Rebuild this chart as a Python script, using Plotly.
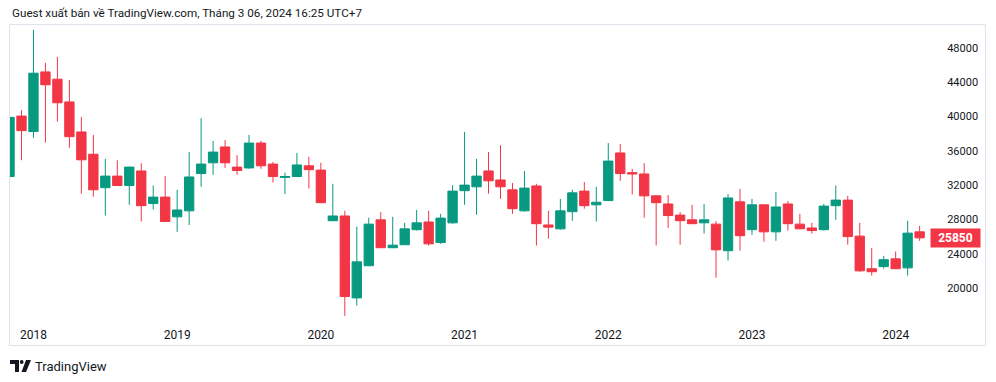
import plotly.graph_objects as go

# ---------------- data (monthly, Nov 2017 .. Mar 2024) ----------------
months = [
    "2017-11", "2017-12",
    "2018-01", "2018-02", "2018-03", "2018-04", "2018-05", "2018-06",
    "2018-07", "2018-08", "2018-09", "2018-10", "2018-11", "2018-12",
    "2019-01", "2019-02", "2019-03", "2019-04", "2019-05", "2019-06",
    "2019-07", "2019-08", "2019-09", "2019-10", "2019-11", "2019-12",
    "2020-01", "2020-02", "2020-03", "2020-04", "2020-05", "2020-06",
    "2020-07", "2020-08", "2020-09", "2020-10", "2020-11", "2020-12",
    "2021-01", "2021-02", "2021-03", "2021-04", "2021-05", "2021-06",
    "2021-07", "2021-08", "2021-09", "2021-10", "2021-11", "2021-12",
    "2022-01", "2022-02", "2022-03", "2022-04", "2022-05", "2022-06",
    "2022-07", "2022-08", "2022-09", "2022-10", "2022-11", "2022-12",
    "2023-01", "2023-02", "2023-03", "2023-04", "2023-05", "2023-06",
    "2023-07", "2023-08", "2023-09", "2023-10", "2023-11", "2023-12",
    "2024-01", "2024-02", "2024-03",
]
open_ = [
    33000, 40050,
    38250, 45200, 44350, 41700, 38200, 35600, 31700, 33050, 31950, 33650, 29850, 30600,
    28300, 29000, 33350, 34600, 36450, 34100, 34000, 36900, 34450, 32900, 33000, 34250,
    33750, 27850, 28400, 18850, 22600, 27950, 24700, 25050, 26800, 27700, 25300, 27600,
    31350, 31800, 33650, 32600, 31450, 29000, 31900, 27350, 26900, 28900, 31300, 29700,
    30200, 35750, 33450, 33300, 30750, 29800, 28500, 27950, 27600, 27450, 24350, 30050,
    26800, 29700, 26550, 29800, 27450, 27000, 26800, 29600, 30250, 26050, 22250, 22500,
    23400, 22350, 26550,
]
high = [
    40100, 40750,
    50100, 46250, 46950, 44250, 39950, 37850, 35050, 34900, 34150, 34550, 31950, 33050,
    31450, 35850, 39800, 37150, 37250, 35500, 37850, 37150, 34700, 33450, 35750, 35300,
    34600, 32150, 29000, 27150, 28200, 28850, 28300, 27600, 29100, 29000, 28650, 32000,
    38200, 35050, 35850, 36650, 32250, 33650, 32150, 29000, 30400, 31450, 32350, 31800,
    36900, 36800, 33900, 34550, 30800, 30850, 28850, 29700, 29800, 27800, 30950, 31550,
    30400, 29750, 31200, 30150, 28650, 27600, 29800, 31950, 30750, 27600, 24650, 23750,
    24250, 27850, 27250,
]
low = [
    32500, 34900,
    37500, 36950, 39400, 36350, 31000, 30650, 28450, 31900, 29700, 27750, 29150, 27700,
    26550, 27350, 31800, 33200, 34000, 33200, 33900, 33900, 32300, 30950, 32950, 31600,
    29900, 27800, 16750, 17950, 22550, 24650, 24650, 25000, 26700, 24950, 25150, 27500,
    29700, 28550, 31000, 30400, 28650, 28900, 24950, 25750, 26800, 27850, 29250, 27750,
    30150, 32500, 30900, 28200, 24950, 27000, 25050, 27450, 26350, 21200, 23200, 24350,
    26200, 25400, 25500, 26700, 26900, 26350, 26700, 27950, 25050, 21900, 21450, 22250,
    22200, 21450, 25500,
]
close = [
    39900, 38350,
    45050, 43700, 41600, 37650, 34950, 31450, 33050, 31950, 34100, 29600, 30600, 27750,
    29100, 32950, 34450, 35850, 34600, 33700, 36900, 34250, 33000, 33000, 34350, 33800,
    29950, 28400, 19000, 23050, 27450, 24700, 25000, 26900, 27600, 25150, 28150, 31300,
    32000, 33050, 32500, 31800, 29250, 31650, 27500, 27100, 29000, 31100, 29600, 30000,
    34800, 33350, 33300, 30750, 29950, 28450, 27850, 27500, 27950, 24450, 30500, 26100,
    29700, 26550, 29450, 27500, 26900, 26700, 29550, 30250, 26000, 22000, 21900, 23300,
    22250, 26400, 25850,
]
year_labels = ["2018", "2019", "2020", "2021", "2022", "2023", "2024"]
price_ticks = [20000, 24000, 28000, 32000, 36000, 40000, 44000, 48000]
last_price = close[-1]

# ---------------- styling ----------------
GREEN = "#089981"
RED = "#F23645"
TXT = "#131722"
BORDER = "#E0E3EB"
FONT = "Roboto, 'Open Sans', sans-serif"

W, H = 996, 382
L, R, T, B = 10, 68, 25, 62
PW, PH = W - L - R, H - T - B


def px(x):
    return (x - L) / PW


def py(y):
    return (H - B - y) / PH


xs = list(range(len(months)))
year_pos = [months.index(y + "-01") for y in year_labels]

fig = go.Figure()
fig.add_trace(go.Candlestick(
    x=xs, open=open_, high=high, low=low, close=close,
    increasing=dict(line=dict(color=GREEN, width=1), fillcolor=GREEN),
    decreasing=dict(line=dict(color=RED, width=1), fillcolor=RED),
    whiskerwidth=0, showlegend=False, hoverinfo="skip",
))

fig.update_layout(
    width=W, height=H,
    margin=dict(l=L, r=R, t=T, b=B, pad=0),
    paper_bgcolor="white", plot_bgcolor="white",
    boxgap=0.22, boxgroupgap=0,
    showlegend=False,
    font=dict(family=FONT, color=TXT, size=11),
    xaxis=dict(
        range=[0.04, 76.7], rangeslider=dict(visible=False),
        tickvals=year_pos, ticktext=year_labels,
        showgrid=False, zeroline=False, showline=False,
        ticks="outside", ticklen=4, tickcolor="rgba(0,0,0,0)",
        tickfont=dict(size=12, color=TXT),
    ),
    yaxis=dict(
        side="right", range=[16270, 50670],
        tickvals=price_ticks, ticktext=[str(v) for v in price_ticks],
        showgrid=False, zeroline=False, showline=False,
        ticks="outside", ticklen=16, tickcolor="rgba(0,0,0,0)",
        tickfont=dict(size=11, color=TXT),
    ),
)

shapes = [
    # chart frame
    dict(type="rect", xref="paper", yref="paper",
         x0=px(9.5), x1=px(985.5), y0=py(345.5), y1=py(24.5),
         line=dict(color=BORDER, width=1), fillcolor="rgba(0,0,0,0)", layer="below"),
]
# TradingView logo (approximate glyph)
logo_col = TXT


def path(points):
    return "M " + " L ".join(f"{px(a)},{py(b)}" for a, b in points) + " Z"


shapes.append(dict(type="path", xref="paper", yref="paper",
                   path=path([(10, 360), (19, 360), (19, 372), (15, 372), (15, 364), (10, 364)]),
                   fillcolor=logo_col, line=dict(width=0)))
shapes.append(dict(type="circle", xref="paper", yref="paper",
                   x0=px(19.8), x1=px(23.6), y0=py(364), y1=py(360),
                   fillcolor=logo_col, line=dict(width=0)))
shapes.append(dict(type="path", xref="paper", yref="paper",
                   path=path([(26, 360), (31, 360), (26, 372), (21.5, 372)]),
                   fillcolor=logo_col, line=dict(width=0)))
fig.update_layout(shapes=shapes)

annotations = [
    dict(text="Guest xuất bản về TradingView.com, Tháng 3 06, 2024 16:25 UTC+7",
         xref="paper", yref="paper", x=px(10), y=py(13), xanchor="left", yanchor="middle",
         showarrow=False, font=dict(size=11.7, color=TXT, family=FONT)),
    dict(text="TradingView",
         xref="paper", yref="paper", x=px(33), y=py(366), xanchor="left", yanchor="middle",
         showarrow=False, font=dict(size=13, color=TXT, family=FONT)),
    dict(text=f"<b>{last_price}</b>",
         xref="paper", yref="y", x=px(930), y=last_price, xanchor="left", yanchor="middle",
         showarrow=False, bgcolor=RED, borderpad=2, width=45,
         font=dict(size=12, color="white", family=FONT)),
]
fig.update_layout(annotations=annotations)

fig.write_html("out.html", config={"displayModeBar": False},
               post_script="document.body.style.margin='0';document.body.style.overflow='hidden';")
